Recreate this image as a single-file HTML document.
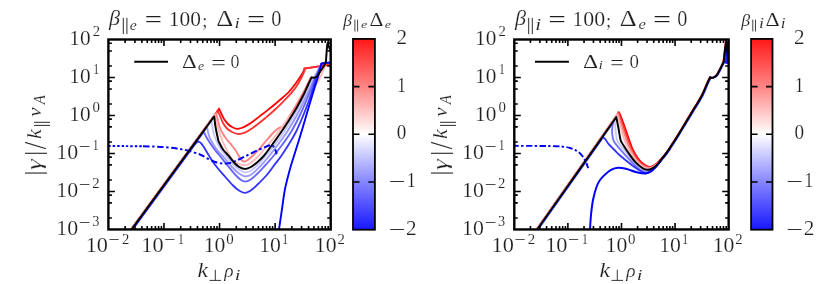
<!DOCTYPE html>
<html><head><meta charset="utf-8"><title>growth rates</title>
<style>
html,body{margin:0;padding:0;background:#fff;}
body{width:830px;height:284px;overflow:hidden;}
svg{display:block;}
text{font-family:"Liberation Serif",serif;font-kerning:none;}
.tx text{vector-effect:non-scaling-stroke;}
.i{font-style:italic;}
</style></head><body>
<svg width="830" height="284" viewBox="0 0 830 284">
<defs><linearGradient id="bwr" x1="0" y1="0" x2="0" y2="1"><stop offset="0" stop-color="#ff1818"/><stop offset="0.25" stop-color="#ff8585"/><stop offset="0.5" stop-color="#ffffff"/><stop offset="0.75" stop-color="#8585ff"/><stop offset="1" stop-color="#1818ff"/></linearGradient><clipPath id="cl"><rect x="108.4" y="39.5" width="222.3" height="189.95"/></clipPath><clipPath id="cr"><rect x="514.3" y="39.5" width="214.35" height="189.95"/></clipPath></defs>
<rect width="830" height="284" fill="#fff"/>
<g clip-path="url(#cl)"><path d="M131.05,229.45 L219.15,108.93 C219.15,108.93 218.76,108.08 219.15,108.93 C219.54,109.77 220.69,112.32 221.5,114 C222.31,115.68 222.92,117.33 224,119 C225.08,120.67 226.67,122.67 228,124 C229.33,125.33 230.53,126.2 232,127 C233.47,127.8 235.22,128.63 236.8,128.8 C238.38,128.97 239.95,128.48 241.5,128 C243.05,127.52 244.18,127 246.1,125.9 C248.02,124.8 250.65,123.07 253,121.4 C255.35,119.73 257.87,117.7 260.2,115.9 C262.53,114.1 264.65,112.47 267,110.6 C269.35,108.73 271.97,106.63 274.3,104.7 C276.63,102.77 278.67,101.03 281,99 C283.33,96.97 285.83,95.13 288.3,92.5 C290.77,89.87 293.48,86.33 295.8,83.2 C298.12,80.07 300.73,76.13 302.2,73.7 C303.67,71.27 304.2,69.45 304.6,68.6 C304.63,68.58 303.57,68.72 304.8,68.5 C306.03,68.28 309.25,67.72 312,67.3 C314.75,66.88 318.18,66.45 321.3,66 C324.42,65.55 329.13,64.83 330.7,64.6" fill="none" stroke="#ff0000" stroke-width="1.8" stroke-linejoin="round" stroke-linecap="butt" />
<path d="M130.9,229.45 L217.7,110.71 C217.7,110.71 217.23,109.66 217.7,110.71 C218.17,111.76 219.62,114.95 220.5,117 C221.38,119.05 221.92,121.08 223,123 C224.08,124.92 225.5,127 227,128.5 C228.5,130 230.07,131.08 232,132 C233.93,132.92 236.37,133.93 238.6,134 C240.83,134.07 243.17,133.33 245.4,132.4 C247.63,131.47 249.53,130.08 252,128.4 C254.47,126.72 257.7,124.27 260.2,122.3 C262.7,120.33 264.65,118.6 267,116.6 C269.35,114.6 271.63,112.77 274.3,110.3 C276.97,107.83 280.18,104.65 283,101.8 C285.82,98.95 288.6,96.35 291.2,93.2 C293.8,90.05 296.45,86.45 298.6,82.9 C300.75,79.35 303.07,74.3 304.1,71.9 C305.13,69.5 304.68,69.07 304.8,68.5 C306,68.3 309.25,67.72 312,67.3 C314.75,66.88 318.18,66.45 321.3,66 C324.42,65.55 329.13,64.83 330.7,64.6" fill="none" stroke="#ff3333" stroke-width="1.85" stroke-linejoin="round" stroke-linecap="butt" />
<path d="M131,229.45 L216.1,113.03 C216.75,115.53 218.52,124.01 220,128 C221.48,131.99 223.17,134.27 225,137 C226.83,139.73 229.17,142.07 231,144.4 C232.83,146.73 234.55,148.82 236,151 C237.45,153.18 238.7,155.92 239.7,157.5 C240.7,159.08 241.27,159.83 242,160.5 C242.73,161.17 243.27,161.5 244.1,161.5 C244.93,161.5 245.68,161.33 247,160.5 C248.32,159.67 250.17,158.17 252,156.5 C253.83,154.83 255.67,153.08 258,150.5 C260.33,147.92 263.33,144.08 266,141 C268.67,137.92 272.08,134 274,132 C275.92,130 276.47,129.78 277.5,129 C278.53,128.22 279.42,127.53 280.2,127.3 C280.98,127.07 281.53,128.05 282.2,127.6 C282.87,127.15 283.15,126.23 284.2,124.6 C285.25,122.97 286.62,120.82 288.5,117.8 C290.38,114.78 293.08,110.63 295.5,106.5 C297.92,102.37 300.75,97.25 303,93 C305.25,88.75 307.67,83.67 309,81 C310.33,78.33 310.67,77.67 311,77" fill="none" stroke="#ff8080" stroke-width="1.85" stroke-linejoin="round" stroke-linecap="butt" />
<path d="M131.1,229.45 L214.8,114.95 C215.5,117.67 217.72,126.96 219,131.3 C220.28,135.64 221.23,137.92 222.5,141 C223.77,144.08 225.02,146.8 226.6,149.8 C228.18,152.8 230.1,156.72 232,159 C233.9,161.28 235.9,162.45 238,163.5 C240.1,164.55 242.6,165.3 244.6,165.3 C246.6,165.3 248.1,164.63 250,163.5 C251.9,162.37 254,160.42 256,158.5 C258,156.58 259.67,154.67 262,152 C264.33,149.33 267.33,145.75 270,142.5 C272.67,139.25 275.5,135.75 278,132.5 C280.5,129.25 282.67,126.08 285,123 C287.33,119.92 289.42,117.17 292,114 C294.58,110.83 297.5,107.67 300.5,104 C303.5,100.33 307.08,95.75 310,92 C312.92,88.25 315.92,84.83 318,81.5 C320.08,78.17 321.38,74.52 322.5,72 C323.62,69.48 324.03,68.4 324.7,66.4 C325.37,64.4 326.2,61.07 326.5,60" fill="none" stroke="#ffb8b8" stroke-width="1.85" stroke-linejoin="round" stroke-linecap="butt" />
<path d="M132.2,229.45 L211.5,120.97 C211.83,122.97 212.58,129.49 213.5,133 C214.42,136.51 215.67,139.17 217,142 C218.33,144.83 219.9,147.58 221.5,150 C223.1,152.42 224.68,154.17 226.6,156.5 C228.52,158.83 230.93,161.83 233,164 C235.07,166.17 236.97,168.1 239,169.5 C241.03,170.9 243.2,172.23 245.2,172.4 C247.2,172.57 248.87,171.82 251,170.5 C253.13,169.18 255.52,166.92 258,164.5 C260.48,162.08 263.07,159.33 265.9,156 C268.73,152.67 271.98,148.5 275,144.5 C278.02,140.5 280.83,136.75 284,132 C287.17,127.25 290.83,121.42 294,116 C297.17,110.58 300.5,104.33 303,99.5 C305.5,94.67 307.42,90.25 309,87 C310.58,83.75 311.17,82.5 312.5,80 C313.83,77.5 315.52,74.72 317,72 C318.48,69.28 320.67,65.08 321.4,63.7 C322,63.58 323.45,63.2 325,63 C326.55,62.8 329.75,62.58 330.7,62.5" fill="none" stroke="#c7c7ff" stroke-width="1.85" stroke-linejoin="round" stroke-linecap="butt" />
<path d="M132.3,229.45 L207.1,127.12 C207.42,128.6 208.02,133.19 209,136 C209.98,138.81 211.5,141.5 213,144 C214.5,146.5 216.08,148.67 218,151 C219.92,153.33 222.17,155.33 224.5,158 C226.83,160.67 229.58,164.42 232,167 C234.42,169.58 236.8,171.92 239,173.5 C241.2,175.08 243.03,176.42 245.2,176.5 C247.37,176.58 249.53,175.67 252,174 C254.47,172.33 257.13,169.5 260,166.5 C262.87,163.5 266.2,159.67 269.2,156 C272.2,152.33 275.03,148.5 278,144.5 C280.97,140.5 283.92,136.75 287,132 C290.08,127.25 293.5,121.5 296.5,116 C299.5,110.5 302.67,103.83 305,99 C307.33,94.17 309.08,90.17 310.5,87 C311.92,83.83 312.33,82.5 313.5,80 C314.67,77.5 316.18,74.72 317.5,72 C318.82,69.28 320.75,65.08 321.4,63.7 C322,63.58 323.45,63.2 325,63 C326.55,62.8 329.75,62.58 330.7,62.5" fill="none" stroke="#9999ff" stroke-width="1.85" stroke-linejoin="round" stroke-linecap="butt" />
<path d="M132.4,229.45 L203.8,131.77 C204.17,132.56 204.97,134.63 206,136.5 C207.03,138.37 208.5,140.75 210,143 C211.5,145.25 213.33,147.83 215,150 C216.67,152.17 217.83,153.33 220,156 C222.17,158.67 225.33,162.75 228,166 C230.67,169.25 233.83,173.17 236,175.5 C238.17,177.83 239.47,178.98 241,180 C242.53,181.02 243.7,181.6 245.2,181.6 C246.7,181.6 248.03,181.27 250,180 C251.97,178.73 254.5,176.42 257,174 C259.5,171.58 262.25,168.5 265,165.5 C267.75,162.5 270.67,159.42 273.5,156 C276.33,152.58 279.08,149 282,145 C284.92,141 288.08,136.83 291,132 C293.92,127.17 296.83,121.5 299.5,116 C302.17,110.5 304.92,103.83 307,99 C309.08,94.17 310.75,90.17 312,87 C313.25,83.83 313.5,82.5 314.5,80 C315.5,77.5 316.85,74.72 318,72 C319.15,69.28 320.83,65.08 321.4,63.7 C322,63.58 323.45,63.2 325,63 C326.55,62.8 329.75,62.58 330.7,62.5" fill="none" stroke="#6666ff" stroke-width="1.85" stroke-linejoin="round" stroke-linecap="butt" />
<path d="M132.55,229.45 L194.15,145.18 C194.15,145.18 193.79,145.59 194.15,145.18 C194.51,144.77 195.66,143.26 196.3,142.7 C196.94,142.14 197.45,141.92 198,141.8 C198.55,141.68 199.07,141.73 199.6,142 C200.13,142.27 200.55,142.63 201.2,143.4 C201.85,144.17 202.17,144.5 203.5,146.6 C204.83,148.7 207.12,152.77 209.2,156 C211.28,159.23 213.45,162.67 216,166 C218.55,169.33 221.67,172.75 224.5,176 C227.33,179.25 230.58,183.08 233,185.5 C235.42,187.92 237.07,189.27 239,190.5 C240.93,191.73 242.77,192.82 244.6,192.9 C246.43,192.98 247.93,192.32 250,191 C252.07,189.68 254.35,187.5 257,185 C259.65,182.5 263.07,179.25 265.9,176 C268.73,172.75 271.45,168.83 274,165.5 C276.55,162.17 278.7,159.58 281.2,156 C283.7,152.42 286.55,148 289,144 C291.45,140 293.57,136.67 295.9,132 C298.23,127.33 300.73,121.5 303,116 C305.27,110.5 307.75,103.83 309.5,99 C311.25,94.17 312.5,90.17 313.5,87 C314.5,83.83 314.67,82.5 315.5,80 C316.33,77.5 317.52,74.72 318.5,72 C319.48,69.28 320.92,65.08 321.4,63.7 C322,63.58 323.45,63.2 325,63 C326.55,62.8 329.75,62.58 330.7,62.5" fill="none" stroke="#3333ff" stroke-width="1.85" stroke-linejoin="round" stroke-linecap="butt" />
<path d="M279,229.45 C279.55,225.71 281.3,213.74 282.3,207 C283.3,200.26 283.72,195.33 285,189 C286.28,182.67 288.25,175.33 290,169 C291.75,162.67 293.6,157.17 295.5,151 C297.4,144.83 299.48,138.33 301.4,132 C303.32,125.67 305.15,119.25 307,113 C308.85,106.75 310.83,100 312.5,94.5 C314.17,89 315.82,83.83 317,80 C318.18,76.17 318.87,74.22 319.6,71.5 C320.33,68.78 321.1,65 321.4,63.7 C322,63.58 323.45,63.2 325,63 C326.55,62.8 329.75,62.58 330.7,62.5" fill="none" stroke="#0000ff" stroke-width="1.9" stroke-linejoin="round" stroke-linecap="butt" />
<path d="M108.4,146 C111.17,146.02 119.23,146.05 125,146.1 C130.77,146.15 140,146.27 143,146.3" fill="none" stroke="#0000ff" stroke-width="1.95" stroke-linejoin="round" stroke-linecap="butt" stroke-dasharray="2.4 2"/>
<path d="M143,146.3 C145,146.35 151.17,146.43 155,146.6 C158.83,146.77 162.33,146.98 166,147.3 C169.67,147.62 173.47,147.98 177,148.5 C180.53,149.02 183.37,149.4 187.2,150.4 C191.03,151.4 196.48,153.08 200,154.5 C203.52,155.92 205.47,157.57 208.3,158.9 C211.13,160.23 214.18,161.73 217,162.5 C219.82,163.27 222.53,163.58 225.2,163.5 C227.87,163.42 230.22,162.92 233,162 C235.78,161.08 238.57,159.58 241.9,158 C245.23,156.42 249.18,154.32 253,152.5 C256.82,150.68 261.73,148.32 264.8,147.1 C267.87,145.88 269.78,145.05 271.4,145.2 C273.02,145.35 273.6,146.5 274.5,148 C275.4,149.5 276.42,153.17 276.8,154.2" fill="none" stroke="#0000ff" stroke-width="1.95" stroke-linejoin="round" stroke-linecap="butt" stroke-dasharray="6.5 2.6 2.4 2.6"/>
<path d="M131.6,229.45 L214.2,116.45 C214.45,118.38 214.98,123.89 215.7,128 C216.42,132.11 218.03,138.92 218.5,141.1 C219.25,142.5 221.28,147.02 223,149.5 C224.72,151.98 226.97,153.83 228.8,156 C230.63,158.17 232.3,160.7 234,162.5 C235.7,164.3 237.13,165.73 239,166.8 C240.87,167.87 243.2,168.87 245.2,168.9 C247.2,168.93 249.03,168.07 251,167 C252.97,165.93 254.88,164.33 257,162.5 C259.12,160.67 261.27,158.83 263.7,156 C266.13,153.17 268.68,149.5 271.6,145.5 C274.52,141.5 278.22,136.35 281.2,132 C284.18,127.65 286.9,123.48 289.5,119.4 C292.1,115.32 294.37,111.78 296.8,107.5 C299.23,103.22 302.15,97.62 304.1,93.7 C306.05,89.78 307.25,86.73 308.5,84 C309.75,81.27 311.08,78.42 311.6,77.3 C311.95,77.38 312.78,77.97 313.7,77.8 C314.62,77.63 315.83,77.63 317.1,76.3 C318.37,74.97 320.03,71.73 321.3,69.8 C322.57,67.87 323.92,66.17 324.7,64.7 C325.48,63.23 325.78,61.62 326,61 C326.1,59.5 326.4,54.62 326.6,52 C326.8,49.38 327.02,46.77 327.2,45.3 C327.38,43.83 327.62,43.55 327.7,43.2 C327.85,43.67 328.13,44.7 328.6,46 C329.07,47.3 330.18,50.17 330.5,51" fill="none" stroke="#000" stroke-width="1.95" stroke-linejoin="round" stroke-linecap="butt" /></g>
<g clip-path="url(#cr)"><path d="M536.6,229.45 L619.2,112.32 C619.83,113.94 621.32,117.39 623,122 C624.68,126.61 627.63,135.35 629.3,140 C630.97,144.65 631.37,146.62 633,149.9 C634.63,153.18 637.05,157.13 639.1,159.7 C641.15,162.27 643.45,164.1 645.3,165.3 C647.15,166.5 648.5,167.03 650.2,166.9 C651.9,166.77 653.82,165.72 655.5,164.5 C657.18,163.28 659.5,160.42 660.3,159.6 C661.18,158.6 664.05,155.57 665.6,153.6 C667.15,151.63 667.6,150.87 669.6,147.8 C671.6,144.73 674.93,139.5 677.6,135.2 C680.27,130.9 682.93,126.4 685.6,122 C688.27,117.6 690.98,113.13 693.6,108.8 C696.22,104.47 699.13,100.13 701.3,96 C703.47,91.87 705.18,87.13 706.6,84 C708.02,80.87 709.27,78.33 709.8,77.2 C710.15,77.32 710.83,78.22 711.9,77.9 C712.97,77.58 714.9,76.77 716.2,75.3 C717.5,73.83 718.53,71.32 719.7,69.1 C720.87,66.88 722.62,63.18 723.2,62 C723.21,62 723.12,62.83 723.25,62 C723.38,61.17 723.72,59 723.95,57 C724.18,55 724.42,52.08 724.65,50 C724.88,47.92 725.15,46 725.35,44.5 C725.55,43 725.77,41.58 725.85,41" fill="none" stroke="#ff0000" stroke-width="1.7" stroke-linejoin="round" stroke-linecap="butt" />
<path d="M536.4,229.45 L618.6,112.89 C618.6,112.89 618.03,111.21 618.6,112.89 C619.17,114.58 620.43,118.48 622,123 C623.57,127.52 626.37,135.5 628,140 C629.63,144.5 630.13,146.67 631.8,150 C633.47,153.33 635.88,157.37 638,160 C640.12,162.63 642.5,164.57 644.5,165.8 C646.5,167.03 648.2,167.53 650,167.4 C651.8,167.27 653.47,166.37 655.3,165 C657.13,163.63 660.05,160.17 661,159.2" fill="none" stroke="#ff3333" stroke-width="1.85" stroke-linejoin="round" stroke-linecap="butt" />
<path d="M536.5,229.45 L618,113.88 C618.5,115.57 619.58,119.65 621,124 C622.42,128.35 624.92,135.67 626.5,140 C628.08,144.33 628.75,146.58 630.5,150 C632.25,153.42 634.75,157.77 637,160.5 C639.25,163.23 641.92,165.15 644,166.4 C646.08,167.65 647.63,168.15 649.5,168 C651.37,167.85 653.28,166.92 655.2,165.5 C657.12,164.08 660.03,160.5 661,159.5" fill="none" stroke="#ff8080" stroke-width="1.85" stroke-linejoin="round" stroke-linecap="butt" />
<path d="M536.6,229.45 L617.3,115.02 C617.75,116.68 618.8,120.84 620,125 C621.2,129.16 623.08,136 624.5,140 C625.92,144 626.67,145.67 628.5,149 C630.33,152.33 633.08,157 635.5,160 C637.92,163 640.75,165.55 643,167 C645.25,168.45 646.97,168.87 649,168.7 C651.03,168.53 653.2,167.48 655.2,166 C657.2,164.52 660.03,160.83 661,159.8" fill="none" stroke="#ffb8b8" stroke-width="1.85" stroke-linejoin="round" stroke-linecap="butt" />
<path d="M724.9,63.5 L725.9,45 L726.8,41.5 L728.7,41 L728.7,64.2 Z" fill="#1414ff"/>
<path d="M537.5,229.45 L614.7,119.98 C614.7,119.98 614.6,118.81 614.7,119.98 C614.8,121.15 615.12,124.9 615.3,127 C615.48,129.1 615.52,130.43 615.8,132.6 C616.08,134.77 616.3,137.93 617,140 C617.7,142.07 619.5,144.17 620,145 C620.72,145.82 621.93,147.03 624.3,149.9 C626.67,152.77 631.12,158.82 634.2,162.2 C637.28,165.58 640.5,168.7 642.8,170.2 C645.1,171.7 645.97,171.73 648,171.2 C650.03,170.67 652.83,168.82 655,167 C657.17,165.18 660,161.42 661,160.3" fill="none" stroke="#c7c7ff" stroke-width="1.85" stroke-linejoin="round" stroke-linecap="butt" />
<path d="M537.7,229.45 L612.9,122.82 C612.78,123.76 612.33,126.87 612.2,128.5 C612.07,130.13 611.92,130.68 612.1,132.6 C612.28,134.52 612.57,137.93 613.3,140 C614.03,142.07 615.97,144.17 616.5,145 C617.18,145.82 617.85,146.83 620.6,149.9 C623.35,152.97 629.5,159.92 633,163.4 C636.5,166.88 639.18,169.33 641.6,170.8 C644.02,172.27 645.27,172.78 647.5,172.2 C649.73,171.62 652.75,169.25 655,167.3 C657.25,165.35 660,161.63 661,160.5" fill="none" stroke="#7373ff" stroke-width="1.85" stroke-linejoin="round" stroke-linecap="butt" />
<path d="M537.95,229.45 L601.65,139.12 C601.94,138.87 602.69,137.45 603.4,137.6 C604.11,137.75 605.08,138.98 605.9,140 C606.72,141.02 606.95,142.12 608.3,143.7 C609.65,145.28 611.95,147.45 614,149.5 C616.05,151.55 617.43,153.27 620.6,156 C623.77,158.73 629.3,163.18 633,165.9 C636.7,168.62 640.47,171.08 642.8,172.3 C645.13,173.52 645.13,173.83 647,173.2 C648.87,172.57 651.67,170.57 654,168.5 C656.33,166.43 659.83,162.08 661,160.8 C661.97,159.6 665.17,155.77 666.8,153.6 C668.43,151.43 668.8,150.87 670.8,147.8 C672.8,144.73 676.13,139.5 678.8,135.2 C681.47,130.9 684.13,126.4 686.8,122 C689.47,117.6 692.18,113.13 694.8,108.8 C697.42,104.47 700.33,100.13 702.5,96 C704.67,91.87 706.38,87.13 707.8,84 C709.22,80.87 710.47,78.33 711,77.2 C710.98,77.2 710.57,77.08 710.9,77.2 C711.23,77.32 711.93,78.22 713,77.9 C714.07,77.58 716,76.77 717.3,75.3 C718.6,73.83 719.63,71.32 720.8,69.1 C721.97,66.88 723.72,63.18 724.3,62 C724.27,62 724.02,62.83 724.1,62 C724.18,61.17 724.57,59 724.8,57 C725.03,55 725.27,52.08 725.5,50 C725.73,47.92 726,46 726.2,44.5 C726.4,43 726.62,41.58 726.7,41" fill="none" stroke="#3333ff" stroke-width="1.8" stroke-linejoin="round" stroke-linecap="butt" />
<path d="M590,229.45 C590.17,227.04 590.5,219.91 591,215 C591.5,210.09 592.08,204.67 593,200 C593.92,195.33 595.33,190.33 596.5,187 C597.67,183.67 598.65,182 600,180 C601.35,178 602.77,176.7 604.6,175 C606.43,173.3 608.73,171.02 611,169.8 C613.27,168.58 615.7,167.87 618.2,167.7 C620.7,167.53 622.92,168.03 626,168.8 C629.08,169.57 633.48,171.5 636.7,172.3 C639.92,173.1 642.92,173.73 645.3,173.6 C647.68,173.47 649.05,172.85 651,171.5 C652.95,170.15 655,167.83 657,165.5 C659,163.17 660.83,160.35 663,157.5 C665.17,154.65 668.83,149.92 670,148.4" fill="none" stroke="#0000ff" stroke-width="2.0" stroke-linejoin="round" stroke-linecap="butt" />
<path d="M514.4,145.8 C517,145.82 524.9,145.87 530,145.9 C535.1,145.93 540.83,145.95 545,146 C549.17,146.05 552.02,146.08 555,146.2 C557.98,146.32 560.4,146.4 562.9,146.7 C565.4,147 567.65,147.27 570,148 C572.35,148.73 575,149.85 577,151.1 C579,152.35 580.53,153.73 582,155.5 C583.47,157.27 584.77,159.58 585.8,161.7 C586.83,163.82 587.8,167.12 588.2,168.2" fill="none" stroke="#0000ff" stroke-width="1.9" stroke-linejoin="round" stroke-linecap="butt" stroke-dasharray="6.5 2.2 2.4 2.4" stroke-dashoffset="2"/>
<path d="M537.1,229.45 L616.3,117.14 C616.67,119.04 617.78,124.69 618.5,128.5 C619.22,132.31 619.93,137.47 620.6,140 C621.27,142.53 622.18,143.08 622.5,143.7 C623.42,145.13 625.85,149.22 628,152.3 C630.15,155.38 632.93,159.53 635.4,162.2 C637.87,164.87 640.63,167.05 642.8,168.3 C644.97,169.55 646.33,170 648.4,169.7 C650.47,169.4 653.1,168.12 655.2,166.5 C657.3,164.88 660.03,161.08 661,160 C661.83,158.93 664.5,155.63 666,153.6 C667.5,151.57 668,150.87 670,147.8 C672,144.73 675.33,139.5 678,135.2 C680.67,130.9 683.33,126.4 686,122 C688.67,117.6 691.38,113.13 694,108.8 C696.62,104.47 699.53,100.13 701.7,96 C703.87,91.87 705.58,87.13 707,84 C708.42,80.87 709.67,78.33 710.2,77.2 C710.55,77.32 711.23,78.22 712.3,77.9 C713.37,77.58 715.3,76.77 716.6,75.3 C717.9,73.83 718.93,71.32 720.1,69.1 C721.27,66.88 723.02,63.18 723.6,62 C723.72,61.17 724.07,59 724.3,57 C724.53,55 724.77,52.08 725,50 C725.23,47.92 725.5,46 725.7,44.5 C725.9,43 726.12,41.58 726.2,41 C726.33,42.17 726.7,45.5 727,48 C727.3,50.5 727.83,54.67 728,56" fill="none" stroke="#000" stroke-width="1.95" stroke-linejoin="round" stroke-linecap="butt" /></g>
<path d="M125.13,229.45 v-3.5 M125.13,39.5 v3.5 M134.92,229.45 v-3.5 M134.92,39.5 v3.5 M141.86,229.45 v-3.5 M141.86,39.5 v3.5 M147.25,229.45 v-3.5 M147.25,39.5 v3.5 M151.65,229.45 v-3.5 M151.65,39.5 v3.5 M155.37,229.45 v-3.5 M155.37,39.5 v3.5 M158.59,229.45 v-3.5 M158.59,39.5 v3.5 M161.43,229.45 v-3.5 M161.43,39.5 v3.5 M163.97,229.45 v-6.5 M163.97,39.5 v6.5 M180.7,229.45 v-3.5 M180.7,39.5 v3.5 M190.49,229.45 v-3.5 M190.49,39.5 v3.5 M197.43,229.45 v-3.5 M197.43,39.5 v3.5 M202.82,229.45 v-3.5 M202.82,39.5 v3.5 M207.22,229.45 v-3.5 M207.22,39.5 v3.5 M210.94,229.45 v-3.5 M210.94,39.5 v3.5 M214.16,229.45 v-3.5 M214.16,39.5 v3.5 M217.01,229.45 v-3.5 M217.01,39.5 v3.5 M219.55,229.45 v-6.5 M219.55,39.5 v6.5 M236.28,229.45 v-3.5 M236.28,39.5 v3.5 M246.07,229.45 v-3.5 M246.07,39.5 v3.5 M253.01,229.45 v-3.5 M253.01,39.5 v3.5 M258.4,229.45 v-3.5 M258.4,39.5 v3.5 M262.8,229.45 v-3.5 M262.8,39.5 v3.5 M266.52,229.45 v-3.5 M266.52,39.5 v3.5 M269.74,229.45 v-3.5 M269.74,39.5 v3.5 M272.58,229.45 v-3.5 M272.58,39.5 v3.5 M275.12,229.45 v-6.5 M275.12,39.5 v6.5 M291.85,229.45 v-3.5 M291.85,39.5 v3.5 M301.64,229.45 v-3.5 M301.64,39.5 v3.5 M308.58,229.45 v-3.5 M308.58,39.5 v3.5 M313.97,229.45 v-3.5 M313.97,39.5 v3.5 M318.37,229.45 v-3.5 M318.37,39.5 v3.5 M322.09,229.45 v-3.5 M322.09,39.5 v3.5 M325.31,229.45 v-3.5 M325.31,39.5 v3.5 M328.16,229.45 v-3.5 M328.16,39.5 v3.5 M108.4,218.01 h3.5 M330.7,218.01 h-3.5 M108.4,202.9 h3.5 M330.7,202.9 h-3.5 M108.4,195.14 h3.5 M330.7,195.14 h-3.5 M108.4,191.46 h6.5 M330.7,191.46 h-6.5 M108.4,180.02 h3.5 M330.7,180.02 h-3.5 M108.4,164.91 h3.5 M330.7,164.91 h-3.5 M108.4,157.15 h3.5 M330.7,157.15 h-3.5 M108.4,153.47 h6.5 M330.7,153.47 h-6.5 M108.4,142.03 h3.5 M330.7,142.03 h-3.5 M108.4,126.92 h3.5 M330.7,126.92 h-3.5 M108.4,119.16 h3.5 M330.7,119.16 h-3.5 M108.4,115.48 h6.5 M330.7,115.48 h-6.5 M108.4,104.04 h3.5 M330.7,104.04 h-3.5 M108.4,88.93 h3.5 M330.7,88.93 h-3.5 M108.4,81.17 h3.5 M330.7,81.17 h-3.5 M108.4,77.49 h6.5 M330.7,77.49 h-6.5 M108.4,66.05 h3.5 M330.7,66.05 h-3.5 M108.4,50.94 h3.5 M330.7,50.94 h-3.5 M108.4,43.18 h3.5 M330.7,43.18 h-3.5" stroke="#000" stroke-width="1.6" fill="none"/>
<rect x="108.4" y="39.5" width="222.3" height="189.95" fill="none" stroke="#000" stroke-width="2.4"/>
<path d="M530.43,229.45 v-3.5 M530.43,39.5 v3.5 M539.87,229.45 v-3.5 M539.87,39.5 v3.5 M546.56,229.45 v-3.5 M546.56,39.5 v3.5 M551.76,229.45 v-3.5 M551.76,39.5 v3.5 M556,229.45 v-3.5 M556,39.5 v3.5 M559.59,229.45 v-3.5 M559.59,39.5 v3.5 M562.69,229.45 v-3.5 M562.69,39.5 v3.5 M565.44,229.45 v-3.5 M565.44,39.5 v3.5 M567.89,229.45 v-6.5 M567.89,39.5 v6.5 M584.02,229.45 v-3.5 M584.02,39.5 v3.5 M593.46,229.45 v-3.5 M593.46,39.5 v3.5 M600.15,229.45 v-3.5 M600.15,39.5 v3.5 M605.34,229.45 v-3.5 M605.34,39.5 v3.5 M609.59,229.45 v-3.5 M609.59,39.5 v3.5 M613.17,229.45 v-3.5 M613.17,39.5 v3.5 M616.28,229.45 v-3.5 M616.28,39.5 v3.5 M619.02,229.45 v-3.5 M619.02,39.5 v3.5 M621.47,229.45 v-6.5 M621.47,39.5 v6.5 M637.61,229.45 v-3.5 M637.61,39.5 v3.5 M647.04,229.45 v-3.5 M647.04,39.5 v3.5 M653.74,229.45 v-3.5 M653.74,39.5 v3.5 M658.93,229.45 v-3.5 M658.93,39.5 v3.5 M663.17,229.45 v-3.5 M663.17,39.5 v3.5 M666.76,229.45 v-3.5 M666.76,39.5 v3.5 M669.87,229.45 v-3.5 M669.87,39.5 v3.5 M672.61,229.45 v-3.5 M672.61,39.5 v3.5 M675.06,229.45 v-6.5 M675.06,39.5 v6.5 M691.19,229.45 v-3.5 M691.19,39.5 v3.5 M700.63,229.45 v-3.5 M700.63,39.5 v3.5 M707.33,229.45 v-3.5 M707.33,39.5 v3.5 M712.52,229.45 v-3.5 M712.52,39.5 v3.5 M716.76,229.45 v-3.5 M716.76,39.5 v3.5 M720.35,229.45 v-3.5 M720.35,39.5 v3.5 M723.46,229.45 v-3.5 M723.46,39.5 v3.5 M726.2,229.45 v-3.5 M726.2,39.5 v3.5 M514.3,218.01 h3.5 M728.65,218.01 h-3.5 M514.3,202.9 h3.5 M728.65,202.9 h-3.5 M514.3,195.14 h3.5 M728.65,195.14 h-3.5 M514.3,191.46 h6.5 M728.65,191.46 h-6.5 M514.3,180.02 h3.5 M728.65,180.02 h-3.5 M514.3,164.91 h3.5 M728.65,164.91 h-3.5 M514.3,157.15 h3.5 M728.65,157.15 h-3.5 M514.3,153.47 h6.5 M728.65,153.47 h-6.5 M514.3,142.03 h3.5 M728.65,142.03 h-3.5 M514.3,126.92 h3.5 M728.65,126.92 h-3.5 M514.3,119.16 h3.5 M728.65,119.16 h-3.5 M514.3,115.48 h6.5 M728.65,115.48 h-6.5 M514.3,104.04 h3.5 M728.65,104.04 h-3.5 M514.3,88.93 h3.5 M728.65,88.93 h-3.5 M514.3,81.17 h3.5 M728.65,81.17 h-3.5 M514.3,77.49 h6.5 M728.65,77.49 h-6.5 M514.3,66.05 h3.5 M728.65,66.05 h-3.5 M514.3,50.94 h3.5 M728.65,50.94 h-3.5 M514.3,43.18 h3.5 M728.65,43.18 h-3.5" stroke="#000" stroke-width="1.6" fill="none"/>
<rect x="514.3" y="39.5" width="214.35" height="189.95" fill="none" stroke="#000" stroke-width="2.4"/>
<rect x="353" y="38.9" width="21.9" height="190.8" fill="url(#bwr)" stroke="#000" stroke-width="1.8"/>
<path d="M353,86.6 h6.5 M374.9,86.6 h-6.5 M353,134.3 h6.5 M374.9,134.3 h-6.5 M353,182 h6.5 M374.9,182 h-6.5" stroke="#000" stroke-width="1.6" fill="none"/>
<rect x="751.1" y="38.9" width="21.4" height="190.8" fill="url(#bwr)" stroke="#000" stroke-width="1.8"/>
<path d="M751.1,86.6 h6.5 M772.5,86.6 h-6.5 M751.1,134.3 h6.5 M772.5,134.3 h-6.5 M751.1,182 h6.5 M772.5,182 h-6.5" stroke="#000" stroke-width="1.6" fill="none"/>
<g fill="#1f1f1f" stroke="#fff" stroke-width="0.18" class="tx" opacity="0.999">
<text class="i" transform="matrix(1.112,0,0,1.047,108.908,25.092)" font-size="20">β</text>
<path d="M123.3,17.9 V34.1 M126.9,17.9 V34.1" stroke="#1f1f1f" stroke-width="0.95" fill="none"/>
<text class="i" stroke-width="0.1" transform="matrix(0.794,0,0,0.676,129.762,30.018)" font-size="20">e</text>
<text stroke-width="0.25" transform="matrix(1.569,0,0,1.22,144.387,27.502)" font-size="20">=</text>
<text transform="matrix(1.07,0,0,1.097,168.769,25.536)" font-size="20">100</text>
<text transform="matrix(0.937,0,0,0.923,202.18,27.211)" font-size="20">;</text>
<text transform="matrix(1.322,0,0,1.174,216.243,25.65)" font-size="20">Δ</text>
<text class="i" stroke-width="0.1" transform="matrix(0.957,0,0,0.725,234.598,28.45)" font-size="20">i</text>
<text stroke-width="0.25" transform="matrix(1.612,0,0,1.22,246.945,27.502)" font-size="20">=</text>
<text transform="matrix(1.015,0,0,1.111,271.277,25.733)" font-size="20">0</text>
<text class="i" transform="matrix(1.112,0,0,1.047,514.908,25.092)" font-size="20">β</text>
<path d="M528.7,17.9 V34.1 M532.3,17.9 V34.1" stroke="#1f1f1f" stroke-width="0.95" fill="none"/>
<text class="i" stroke-width="0.1" transform="matrix(1.057,0,0,0.8,535.296,29.55)" font-size="20">i</text>
<text stroke-width="0.25" transform="matrix(1.569,0,0,1.22,548.287,27.502)" font-size="20">=</text>
<text transform="matrix(1.092,0,0,1.097,572.331,25.536)" font-size="20">100</text>
<text transform="matrix(0.937,0,0,0.923,605.98,27.211)" font-size="20">;</text>
<text transform="matrix(1.313,0,0,1.174,619.85,25.65)" font-size="20">Δ</text>
<text class="i" stroke-width="0.1" transform="matrix(0.832,0,0,0.676,638.438,28.818)" font-size="20">e</text>
<text stroke-width="0.25" transform="matrix(1.612,0,0,1.22,652.945,27.502)" font-size="20">=</text>
<text transform="matrix(1.015,0,0,1.111,677.277,25.733)" font-size="20">0</text>
<path d="M134.3,61.7 H168" stroke="#000" stroke-width="1.9"/>
<text transform="matrix(1.146,0,0,0.909,182.077,67.65)" font-size="20">Δ</text>
<text class="i" stroke-width="0.1" transform="matrix(0.691,0,0,0.572,197.925,69.738)" font-size="20">e</text>
<text stroke-width="0.22" transform="matrix(1.322,0,0,1.02,210.934,70.173)" font-size="20">=</text>
<text transform="matrix(0.897,0,0,0.956,230.567,68.263)" font-size="20">0</text>
<path d="M535,61.7 H568.9" stroke="#000" stroke-width="1.9"/>
<text transform="matrix(1.181,0,0,0.909,582.951,67.65)" font-size="20">Δ</text>
<text class="i" stroke-width="0.1" transform="matrix(0.797,0,0,0.604,598.482,69.15)" font-size="20">i</text>
<text stroke-width="0.22" transform="matrix(1.193,0,0,1.02,610.162,70.173)" font-size="20">=</text>
<text transform="matrix(0.944,0,0,0.956,629.431,68.263)" font-size="20">0</text>
<text class="i" stroke-width="0.1" transform="matrix(0.868,0,0,0.872,343.23,25.635)" font-size="20">β</text>
<path d="M354.9,19.6 V31.5 M357.6,19.6 V31.5" stroke="#1f1f1f" stroke-width="0.85" fill="none"/>
<text class="i" stroke-width="0.1" transform="matrix(0.717,0,0,0.561,361.009,28.24)" font-size="20">e</text>
<text transform="matrix(1.084,0,0,0.924,369.424,25.75)" font-size="20">Δ</text>
<text class="i" stroke-width="0.1" transform="matrix(0.704,0,0,0.561,384.817,28.04)" font-size="20">e</text>
<text class="i" stroke-width="0.1" transform="matrix(0.887,0,0,0.872,741.236,25.635)" font-size="20">β</text>
<path d="M752.8,19.6 V31.5 M755.5,19.6 V31.5" stroke="#1f1f1f" stroke-width="0.85" fill="none"/>
<text class="i" stroke-width="0.1" transform="matrix(0.897,0,0,0.68,758.88,28.35)" font-size="20">i</text>
<text transform="matrix(1.102,0,0,0.924,765.411,25.75)" font-size="20">Δ</text>
<text class="i" stroke-width="0.1" transform="matrix(0.86,0,0,0.68,780.693,28.15)" font-size="20">i</text>
<text transform="matrix(1.06,0,0,1.08,396.418,44.05)" font-size="20">2</text>
<text transform="matrix(0.909,0,0,1.083,397.052,91.75)" font-size="20">1</text>
<text transform="matrix(0.956,0,0,1.06,396.822,139.243)" font-size="20">0</text>
<text stroke="none" transform="matrix(1.472,0,0,0.954,388.634,187.958)" font-size="20">−</text>
<text transform="matrix(0.909,0,0,1.083,406.652,187.15)" font-size="20">1</text>
<text stroke="none" transform="matrix(1.472,0,0,0.954,388.634,235.658)" font-size="20">−</text>
<text transform="matrix(1.06,0,0,1.08,406.018,234.85)" font-size="20">2</text>
<text transform="matrix(1.06,0,0,1.08,794.118,44.05)" font-size="20">2</text>
<text transform="matrix(0.909,0,0,1.083,794.752,91.75)" font-size="20">1</text>
<text transform="matrix(0.956,0,0,1.06,794.522,139.243)" font-size="20">0</text>
<text stroke="none" transform="matrix(1.472,0,0,0.954,786.334,187.958)" font-size="20">−</text>
<text transform="matrix(0.909,0,0,1.083,804.352,187.15)" font-size="20">1</text>
<text stroke="none" transform="matrix(1.472,0,0,0.954,786.334,235.658)" font-size="20">−</text>
<text transform="matrix(1.06,0,0,1.08,803.718,234.85)" font-size="20">2</text>
<text transform="matrix(1.093,0,0,1.052,56.229,234.695)" font-size="20">10</text>
<text stroke="none" transform="matrix(1.042,0,0,0.803,78.862,227.983)" font-size="20">−</text>
<text stroke-width="0.1" transform="matrix(0.714,0,0,0.714,92.267,226.16)" font-size="20">3</text>
<text transform="matrix(1.093,0,0,1.052,56.229,196.705)" font-size="20">10</text>
<text stroke="none" transform="matrix(1.042,0,0,0.803,78.862,189.993)" font-size="20">−</text>
<text stroke-width="0.1" transform="matrix(0.736,0,0,0.725,92.303,188.31)" font-size="20">2</text>
<text transform="matrix(1.093,0,0,1.052,56.229,158.715)" font-size="20">10</text>
<text stroke="none" transform="matrix(1.042,0,0,0.803,78.862,152.003)" font-size="20">−</text>
<text stroke-width="0.1" transform="matrix(0.582,0,0,0.727,92.826,150.32)" font-size="20">1</text>
<text transform="matrix(1.064,0,0,1.052,69.28,120.725)" font-size="20">10</text>
<text stroke-width="0.1" transform="matrix(0.743,0,0,0.711,92.584,112.191)" font-size="20">0</text>
<text transform="matrix(1.064,0,0,1.052,69.28,82.735)" font-size="20">10</text>
<text stroke-width="0.1" transform="matrix(0.582,0,0,0.727,93.226,74.34)" font-size="20">1</text>
<text transform="matrix(1.064,0,0,1.052,69.28,44.745)" font-size="20">10</text>
<text stroke-width="0.1" transform="matrix(0.736,0,0,0.725,92.703,36.35)" font-size="20">2</text>
<text transform="matrix(1.093,0,0,1.052,462.029,234.695)" font-size="20">10</text>
<text stroke="none" transform="matrix(1.042,0,0,0.803,484.662,227.983)" font-size="20">−</text>
<text stroke-width="0.1" transform="matrix(0.714,0,0,0.714,498.067,226.16)" font-size="20">3</text>
<text transform="matrix(1.093,0,0,1.052,462.029,196.705)" font-size="20">10</text>
<text stroke="none" transform="matrix(1.042,0,0,0.803,484.662,189.993)" font-size="20">−</text>
<text stroke-width="0.1" transform="matrix(0.736,0,0,0.725,498.103,188.31)" font-size="20">2</text>
<text transform="matrix(1.093,0,0,1.052,462.029,158.715)" font-size="20">10</text>
<text stroke="none" transform="matrix(1.042,0,0,0.803,484.662,152.003)" font-size="20">−</text>
<text stroke-width="0.1" transform="matrix(0.582,0,0,0.727,498.626,150.32)" font-size="20">1</text>
<text transform="matrix(1.064,0,0,1.052,475.08,120.725)" font-size="20">10</text>
<text stroke-width="0.1" transform="matrix(0.743,0,0,0.711,498.384,112.191)" font-size="20">0</text>
<text transform="matrix(1.064,0,0,1.052,475.08,82.735)" font-size="20">10</text>
<text stroke-width="0.1" transform="matrix(0.582,0,0,0.727,499.026,74.34)" font-size="20">1</text>
<text transform="matrix(1.064,0,0,1.052,475.08,44.745)" font-size="20">10</text>
<text stroke-width="0.1" transform="matrix(0.736,0,0,0.725,498.503,36.35)" font-size="20">2</text>
<text transform="matrix(1.116,0,0,1.045,85.689,252.446)" font-size="20">10</text>
<text stroke="none" transform="matrix(0.989,0,0,0.803,108.615,244.933)" font-size="20">−</text>
<text stroke-width="0.1" transform="matrix(0.736,0,0,0.74,121.903,243.85)" font-size="20">2</text>
<text transform="matrix(1.116,0,0,1.045,141.264,252.446)" font-size="20">10</text>
<text stroke="none" transform="matrix(0.989,0,0,0.803,164.19,244.933)" font-size="20">−</text>
<text stroke-width="0.1" transform="matrix(0.582,0,0,0.742,178.001,243.85)" font-size="20">1</text>
<text transform="matrix(1.087,0,0,1.045,203.639,252.446)" font-size="20">10</text>
<text stroke-width="0.1" transform="matrix(0.743,0,0,0.726,226.134,243.708)" font-size="20">0</text>
<text transform="matrix(1.087,0,0,1.045,259.214,252.446)" font-size="20">10</text>
<text stroke-width="0.1" transform="matrix(0.582,0,0,0.742,282.351,243.85)" font-size="20">1</text>
<text transform="matrix(1.087,0,0,1.045,314.789,252.446)" font-size="20">10</text>
<text stroke-width="0.1" transform="matrix(0.736,0,0,0.74,337.403,243.85)" font-size="20">2</text>
<text transform="matrix(1.116,0,0,1.045,491.589,252.446)" font-size="20">10</text>
<text stroke="none" transform="matrix(0.989,0,0,0.803,514.515,244.933)" font-size="20">−</text>
<text stroke-width="0.1" transform="matrix(0.736,0,0,0.74,527.803,243.85)" font-size="20">2</text>
<text transform="matrix(1.116,0,0,1.045,545.177,252.446)" font-size="20">10</text>
<text stroke="none" transform="matrix(0.989,0,0,0.803,568.103,244.933)" font-size="20">−</text>
<text stroke-width="0.1" transform="matrix(0.582,0,0,0.742,581.914,243.85)" font-size="20">1</text>
<text transform="matrix(1.087,0,0,1.045,605.564,252.446)" font-size="20">10</text>
<text stroke-width="0.1" transform="matrix(0.743,0,0,0.726,628.059,243.708)" font-size="20">0</text>
<text transform="matrix(1.087,0,0,1.045,659.152,252.446)" font-size="20">10</text>
<text stroke-width="0.1" transform="matrix(0.582,0,0,0.742,682.289,243.85)" font-size="20">1</text>
<text transform="matrix(1.087,0,0,1.045,712.739,252.446)" font-size="20">10</text>
<text stroke-width="0.1" transform="matrix(0.736,0,0,0.74,735.353,243.85)" font-size="20">2</text>
<text class="i" transform="matrix(1.175,0,0,1.059,197.573,276.95)" font-size="20">k</text>
<path d="M209.5,280.4 H221.1 M215.3,269.8 V280.4" stroke="#1f1f1f" stroke-width="0.9" fill="none"/>
<text class="i" transform="matrix(0.968,0,0,0.982,224.342,277.368)" font-size="20">ρ</text>
<text class="i" stroke-width="0.1" transform="matrix(1.027,0,0,0.778,234.737,280.45)" font-size="20">i</text>
<text class="i" transform="matrix(1.175,0,0,1.059,599.573,276.95)" font-size="20">k</text>
<path d="M611.5,280.4 H623.1 M617.3,269.8 V280.4" stroke="#1f1f1f" stroke-width="0.9" fill="none"/>
<text class="i" transform="matrix(0.968,0,0,0.982,626.342,277.368)" font-size="20">ρ</text>
<text class="i" stroke-width="0.1" transform="matrix(1.027,0,0,0.778,636.737,280.45)" font-size="20">i</text>
<g transform="translate(41.7,173.5) rotate(-90)">
<text stroke="none" transform="matrix(1.104,0,0,1.209,-1.661,-0.12)" font-size="20">|</text>
<text class="i" stroke-width="0.4" transform="matrix(1.375,0,0,1.042,3.58,-0.486)" font-size="20">γ</text>
<text stroke="none" transform="matrix(1.104,0,0,1.209,17.989,-0.12)" font-size="20">|</text>
<text transform="matrix(1.35,0,0,1.592,24.35,4.439)" font-size="20">/</text>
<text class="i" transform="matrix(1.105,0,0,1.074,34.413,-0.25)" font-size="20">k</text>
<path d="M48.1,-7.7 V8.3 M51.2,-7.7 V8.3" stroke="#1f1f1f" stroke-width="0.95" fill="none"/>
<text class="i" transform="matrix(1.046,0,0,0.96,56.864,-0.237)" font-size="20">v</text>
<text class="i" stroke-width="0.1" transform="matrix(0.74,0,0,0.81,69.159,2.85)" font-size="20">A</text>
</g>
<g transform="translate(447.7,173.5) rotate(-90)">
<text stroke="none" transform="matrix(1.104,0,0,1.209,-1.661,-0.12)" font-size="20">|</text>
<text class="i" stroke-width="0.4" transform="matrix(1.375,0,0,1.042,3.58,-0.486)" font-size="20">γ</text>
<text stroke="none" transform="matrix(1.104,0,0,1.209,17.989,-0.12)" font-size="20">|</text>
<text transform="matrix(1.35,0,0,1.592,24.35,4.439)" font-size="20">/</text>
<text class="i" transform="matrix(1.105,0,0,1.074,34.413,-0.25)" font-size="20">k</text>
<path d="M48.1,-7.7 V8.3 M51.2,-7.7 V8.3" stroke="#1f1f1f" stroke-width="0.95" fill="none"/>
<text class="i" transform="matrix(1.046,0,0,0.96,56.864,-0.237)" font-size="20">v</text>
<text class="i" stroke-width="0.1" transform="matrix(0.74,0,0,0.81,69.159,2.85)" font-size="20">A</text>
</g>
</g>
</svg>
</body></html>
